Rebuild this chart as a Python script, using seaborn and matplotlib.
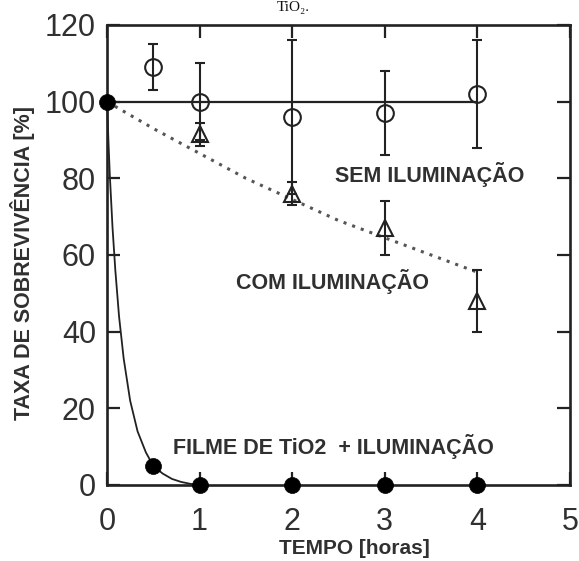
import numpy as np
import pandas as pd
import matplotlib
matplotlib.use("Agg")
import matplotlib.pyplot as plt
import seaborn as sns

# Sem iluminação (círculos abertos)
t_sem = [0.5, 1, 2, 3, 4]
v_sem = [109, 100, 96, 97, 102]
e_sem = [6, 10, 20, 11, 14]

# Com iluminação (triângulos abertos)
t_com = [1, 2, 3, 4]
v_com = [91.5, 76, 67, 48]
e_com = [3, 3, 7, 8]

# Filme de TiO2 + iluminação (círculos cheios)
t_tio2 = [0, 0.5, 1, 2, 3, 4]
v_tio2 = [100, 5, 0, 0, 0, 0]

# Curva de ajuste com iluminação (pontilhada)
t_fit_com = [0, 0.5, 1, 1.5, 2, 2.5, 3, 3.5, 4]
v_fit_com = [100, 93, 86.5, 80, 74.5, 69, 64.5, 60, 55.5]

# Curva de ajuste TiO2 (contínua)
t_fit_tio2 = [0, 0.015, 0.03, 0.06, 0.09, 0.13, 0.18, 0.25, 0.33, 0.42, 0.5, 0.6, 0.7, 0.8, 0.9, 1.0]
v_fit_tio2 = [100, 90, 81, 67, 56, 44, 33, 22, 14, 8.5, 5, 3, 1.6, 0.8, 0.3, 0]

# Linha de referência sem iluminação
t_ref = [0, 4]
v_ref = [100, 100]

x_ticks = [0, 1, 2, 3, 4, 5]
y_ticks = [0, 20, 40, 60, 80, 100, 120]

sns.set_theme(style="ticks")
plt.rcParams["font.family"] = ["Liberation Sans", "DejaVu Sans"]

ink = "#222222"
txt = "#303030"

fig = plt.figure(figsize=(5.79, 5.61), dpi=100)
ax = fig.add_axes([107 / 579, 1 - 485 / 561, 463 / 579, 460 / 561])

df_ref = pd.DataFrame({"t": t_ref, "v": v_ref})
sns.lineplot(data=df_ref, x="t", y="v", ax=ax, color=ink, linewidth=1.6, zorder=2)

df_fc = pd.DataFrame({"t": t_fit_com, "v": v_fit_com})
sns.lineplot(data=df_fc, x="t", y="v", ax=ax, color="#555555", linewidth=2.2,
             linestyle=(0, (1, 2.0)), zorder=2)

df_ft = pd.DataFrame({"t": t_fit_tio2, "v": v_fit_tio2})
sns.lineplot(data=df_ft, x="t", y="v", ax=ax, color=ink, linewidth=1.3,
             sort=False, zorder=2)

ax.errorbar(t_sem, v_sem, yerr=e_sem, fmt="none", ecolor=ink, elinewidth=1.5,
            capsize=3.5, capthick=1.5, zorder=3)
ax.errorbar(t_com, v_com, yerr=e_com, fmt="none", ecolor=ink, elinewidth=1.5,
            capsize=3.5, capthick=1.5, zorder=3)

df_sem = pd.DataFrame({"t": t_sem, "v": v_sem})
sns.lineplot(data=df_sem, x="t", y="v", ax=ax, linestyle="", marker="o",
             markersize=12, markerfacecolor="none", markeredgecolor=ink,
             markeredgewidth=1.5, zorder=4)

df_com = pd.DataFrame({"t": t_com, "v": v_com})
sns.lineplot(data=df_com, x="t", y="v", ax=ax, linestyle="", marker="^",
             markersize=11, markerfacecolor="none", markeredgecolor=ink,
             markeredgewidth=1.5, zorder=4)

df_tio2 = pd.DataFrame({"t": t_tio2, "v": v_tio2})
sns.lineplot(data=df_tio2, x="t", y="v", ax=ax, linestyle="", marker="o",
             markersize=11.5, markerfacecolor="black", markeredgecolor="black",
             markeredgewidth=0.5, zorder=5)
for ln in ax.lines:
    ln.set_clip_on(False)

ax.set_xlim(0, 5)
ax.set_ylim(0, 120)
ax.set_xticks(x_ticks)
ax.set_yticks(y_ticks)
ax.set_xticklabels([str(v) for v in x_ticks])
ax.set_yticklabels([str(v) for v in y_ticks])

for side in ["left", "right", "top", "bottom"]:
    ax.spines[side].set_visible(True)
    ax.spines[side].set_linewidth(1.9)
    ax.spines[side].set_color(ink)

ax.tick_params(axis="both", which="major", direction="in", length=9.5, width=1.6,
               color=ink, top=True, right=True, labelsize=22, labelcolor=txt)
ax.tick_params(axis="x", pad=16)
ax.tick_params(axis="y", pad=8)

ax.set_xlabel("TEMPO [horas]", fontsize=15, fontweight="bold", color=txt)
ax.set_ylabel("TAXA DE SOBREVIVÊNCIA [%]", fontsize=15.5, fontweight="bold", color=txt)
ax.xaxis.set_label_coords(0.535, -0.137)
ax.yaxis.set_label_coords(-0.182, 0.483)
ax.xaxis.label.set_va("center")
ax.yaxis.label.set_va("center")

ax.text(3.49, 80.9, "SEM ILUMINAÇÃO", fontsize=15.5, fontweight="bold", color=txt,
        ha="center", va="center")
ax.text(2.44, 53.2, "COM ILUMINAÇÃO", fontsize=15.5, fontweight="bold", color=txt,
        ha="center", va="center")
ax.text(2.45, 10.0, "FILME DE TiO2  + ILUMINAÇÃO", fontsize=15.5, fontweight="bold",
        color=txt, ha="center", va="center")

# Fragmento da legenda da figura, no topo
fig.text(293 / 579, 1 - 1 / 561, "TiO₂.", fontsize=11, color="#111111",
         family=["Liberation Serif", "DejaVu Serif"], ha="center", va="top")

fig.savefig("out.png", dpi=100, facecolor="white")
